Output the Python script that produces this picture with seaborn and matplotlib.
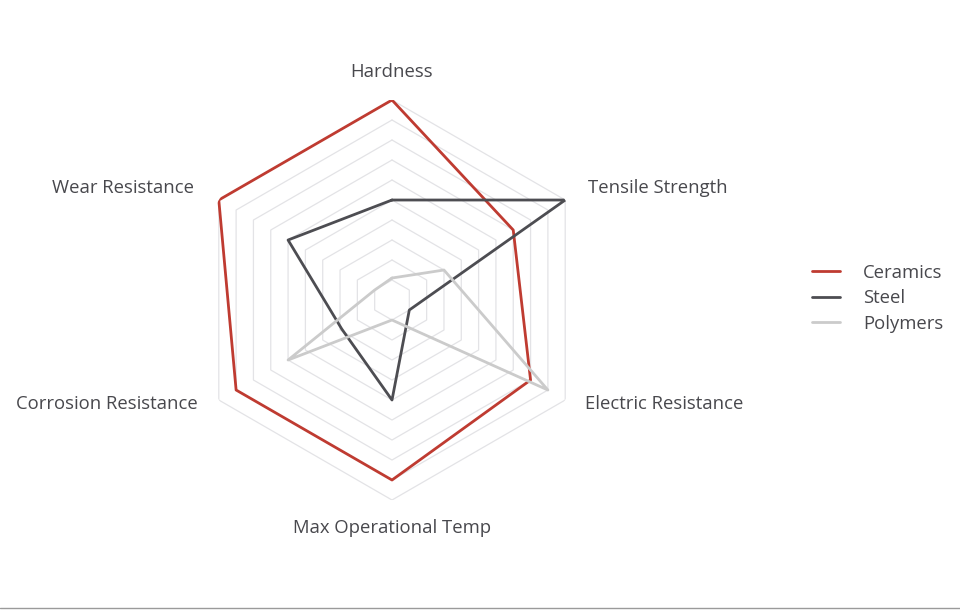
import numpy as np
import pandas as pd
import matplotlib
matplotlib.use("Agg")
import matplotlib.pyplot as plt
from matplotlib.lines import Line2D
import seaborn as sns

# Dados (escala 0-1)
categories = ["Hardness", "Tensile Strength", "Electric Resistance",
              "Max Operational Temp", "Corrosion Resistance", "Wear Resistance"]
materials = ["Ceramics", "Steel", "Polymers"]
ceramics = [1.0, 0.7, 0.8, 0.9, 0.9, 1.0]
steel = [0.5, 1.0, 0.1, 0.5, 0.29, 0.6]
polymers = [0.11, 0.3, 0.9, 0.1, 0.6, 0.1]
grid_levels = [0.1, 0.2, 0.3, 0.4, 0.5, 0.6, 0.7, 0.8, 0.9, 1.0]

colors = {"Ceramics": "#bf3b31", "Steel": "#4d4d52", "Polymers": "#cbcbcb"}
TEXT = "#48484d"
FS = 13.3


def main():
    sns.set_theme(style="white")
    plt.rcParams['font.family'] = ['Open Sans', 'DejaVu Sans']

    n = len(categories)
    angles = np.arange(n) * 2 * np.pi / n

    # formato longo, fechando o polígono (último ponto = primeiro, em 2π)
    rows = []
    for name, vals in zip(materials, [ceramics, steel, polymers]):
        for i in range(n):
            rows.append({'material': name, 'theta': angles[i], 'value': vals[i]})
        rows.append({'material': name, 'theta': 2 * np.pi, 'value': vals[0]})
    df = pd.DataFrame(rows)

    fig = plt.figure(figsize=(9.6, 6.1), dpi=100)
    ax = fig.add_axes([0.2, 0.1803, 0.41667, 0.65574], projection='polar')
    ax.set_theta_zero_location('N')
    ax.set_theta_direction(-1)
    ax.set_ylim(0, 1.0)
    ax.grid(False)
    ax.set_xticks([])
    ax.set_yticks([])
    ax.spines['polar'].set_visible(False)
    ax.set_facecolor('none')

    # grade hexagonal
    closed = np.append(angles, angles[0])
    for lv in grid_levels:
        ax.plot(closed, [lv] * (n + 1), color="#e3e3e6", lw=0.9, zorder=1)

    sns.lineplot(data=df, x='theta', y='value', hue='material', hue_order=materials,
                 palette=colors, sort=False, estimator=None, linewidth=2.0,
                 ax=ax, legend=False, zorder=3)
    ax.set_xlabel("")
    ax.set_ylabel("")

    # rótulos dos eixos
    offsets = [(0, 28, 'center'), (23, 12, 'left'),
               (20, -4, 'left'), (0, -28, 'center'),
               (-21, -4, 'right'), (-25, 12, 'right')]
    for ang, lab, (dx, dy, ha) in zip(angles, categories, offsets):
        ax.annotate(lab, xy=(ang, 1.0), xytext=(dx, dy), textcoords='offset pixels',
                    ha=ha, va='center', fontsize=FS, color=TEXT, annotation_clip=False)

    handles = [Line2D([0], [0], color=colors[m], lw=2.0) for m in materials]
    fig.legend(handles, materials, loc='center left', bbox_to_anchor=(0.828, 0.511),
               frameon=False, fontsize=FS, handlelength=1.55, handletextpad=1.25,
               labelspacing=0.4, labelcolor=TEXT)

    fig.add_artist(Line2D([0, 1], [0.004, 0.004], color="#9a9a9a", lw=1.0))

    fig.savefig("out.png", dpi=100, facecolor='white')
    plt.close(fig)


if __name__ == "__main__":
    main()
